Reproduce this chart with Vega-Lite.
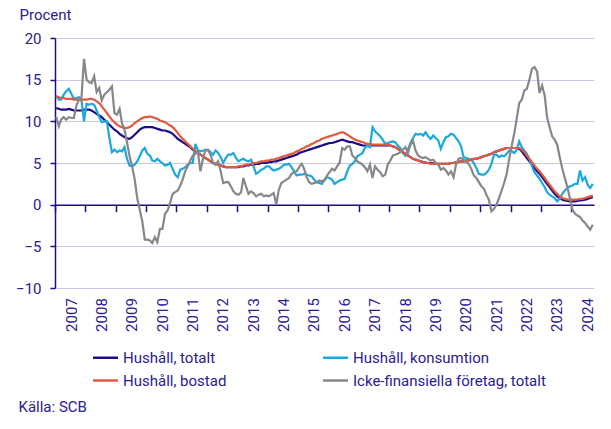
{
"$schema": "https://vega.github.io/schema/vega-lite/v6.json",
"width": 539, "height": 250,
"autosize": {"type": "none"},
"padding": {"left": 55, "top": 38, "right": 17, "bottom": 141},
"background": "white",
"config": {"font": "Roboto", "view": {"stroke": null}},
"data": {"values": [
{"d":"2007-01-16","t":11.6,"k":13.1,"b":13.0,"f":10.5},
{"d":"2007-02-16","t":11.5,"k":12.6,"b":12.9,"f":9.4},
{"d":"2007-03-16","t":11.4,"k":12.6,"b":12.8,"f":10.2},
{"d":"2007-04-16","t":11.4,"k":13.2,"b":12.8,"f":10.5},
{"d":"2007-05-16","t":11.4,"k":13.6,"b":12.7,"f":10.2},
{"d":"2007-06-16","t":11.5,"k":13.9,"b":12.7,"f":10.5},
{"d":"2007-07-16","t":11.4,"k":13.3,"b":12.7,"f":10.4},
{"d":"2007-08-16","t":11.3,"k":12.7,"b":12.6,"f":10.4},
{"d":"2007-09-16","t":11.3,"k":12.8,"b":12.6,"f":11.9},
{"d":"2007-10-16","t":11.3,"k":12.9,"b":12.6,"f":12.6},
{"d":"2007-11-16","t":11.3,"k":12.5,"b":12.6,"f":12.9},
{"d":"2007-12-16","t":11.4,"k":10.0,"b":12.6,"f":17.5},
{"d":"2008-01-16","t":11.4,"k":12.1,"b":12.6,"f":15.0},
{"d":"2008-02-16","t":11.4,"k":12.0,"b":12.7,"f":14.7},
{"d":"2008-03-16","t":11.3,"k":12.1,"b":12.7,"f":14.6},
{"d":"2008-04-16","t":11.1,"k":12.0,"b":12.6,"f":15.4},
{"d":"2008-05-16","t":10.9,"k":11.3,"b":12.4,"f":13.5},
{"d":"2008-06-16","t":10.7,"k":10.5,"b":12.2,"f":14.0},
{"d":"2008-07-16","t":10.5,"k":9.9,"b":11.8,"f":12.5},
{"d":"2008-08-16","t":10.2,"k":10.0,"b":11.4,"f":13.2},
{"d":"2008-09-16","t":9.9,"k":10.0,"b":11.0,"f":13.5},
{"d":"2008-10-16","t":9.6,"k":8.0,"b":10.6,"f":13.8},
{"d":"2008-11-16","t":9.3,"k":6.3,"b":10.2,"f":14.2},
{"d":"2008-12-16","t":9.0,"k":6.6,"b":9.9,"f":11.0},
{"d":"2009-01-16","t":8.8,"k":6.3,"b":9.6,"f":10.8},
{"d":"2009-02-16","t":8.5,"k":6.5,"b":9.4,"f":11.5},
{"d":"2009-03-16","t":8.3,"k":6.4,"b":9.3,"f":9.8},
{"d":"2009-04-16","t":8.1,"k":6.9,"b":9.2,"f":9.0},
{"d":"2009-05-16","t":7.95,"k":5.5,"b":9.2,"f":7.5},
{"d":"2009-06-16","t":7.9,"k":4.7,"b":9.3,"f":5.8},
{"d":"2009-07-16","t":8.1,"k":4.6,"b":9.5,"f":4.6},
{"d":"2009-08-16","t":8.4,"k":4.8,"b":9.8,"f":3.1},
{"d":"2009-09-16","t":8.7,"k":5.2,"b":10.0,"f":0.8},
{"d":"2009-10-16","t":9.0,"k":5.8,"b":10.2,"f":-0.6},
{"d":"2009-11-16","t":9.2,"k":6.5,"b":10.4,"f":-2.0},
{"d":"2009-12-16","t":9.3,"k":6.8,"b":10.5,"f":-4.2},
{"d":"2010-01-16","t":9.3,"k":6.1,"b":10.5,"f":-4.2},
{"d":"2010-02-16","t":9.3,"k":5.9,"b":10.6,"f":-4.3},
{"d":"2010-03-16","t":9.3,"k":5.3,"b":10.5,"f":-4.6},
{"d":"2010-04-16","t":9.2,"k":5.2,"b":10.4,"f":-3.9},
{"d":"2010-05-16","t":9.1,"k":5.5,"b":10.3,"f":-4.5},
{"d":"2010-06-16","t":9.0,"k":5.2,"b":10.1,"f":-2.9},
{"d":"2010-07-16","t":8.9,"k":5.0,"b":10.0,"f":-2.9},
{"d":"2010-08-16","t":8.9,"k":4.7,"b":9.9,"f":-1.1},
{"d":"2010-09-16","t":8.8,"k":4.8,"b":9.7,"f":-0.7},
{"d":"2010-10-16","t":8.7,"k":5.0,"b":9.5,"f":0.2},
{"d":"2010-11-16","t":8.5,"k":4.3,"b":9.3,"f":1.3},
{"d":"2010-12-16","t":8.2,"k":3.6,"b":9.0,"f":1.5},
{"d":"2011-01-16","t":7.9,"k":3.3,"b":8.6,"f":1.7},
{"d":"2011-02-16","t":7.7,"k":4.2,"b":8.2,"f":2.3},
{"d":"2011-03-16","t":7.5,"k":4.3,"b":7.9,"f":3.0},
{"d":"2011-04-16","t":7.3,"k":4.5,"b":7.6,"f":4.0},
{"d":"2011-05-16","t":7.1,"k":4.8,"b":7.3,"f":4.6},
{"d":"2011-06-16","t":6.9,"k":5.0,"b":7.0,"f":5.3},
{"d":"2011-07-16","t":6.6,"k":5.0,"b":6.7,"f":5.9},
{"d":"2011-08-16","t":6.4,"k":7.3,"b":6.4,"f":6.1},
{"d":"2011-09-16","t":6.2,"k":6.5,"b":6.2,"f":6.3},
{"d":"2011-10-16","t":6.0,"k":6.4,"b":6.0,"f":4.0},
{"d":"2011-11-16","t":5.8,"k":6.5,"b":5.8,"f":5.5},
{"d":"2011-12-16","t":5.6,"k":6.5,"b":5.6,"f":6.6},
{"d":"2012-01-16","t":5.4,"k":6.6,"b":5.4,"f":6.5},
{"d":"2012-02-16","t":5.2,"k":6.3,"b":5.2,"f":6.0},
{"d":"2012-03-16","t":5.0,"k":6.0,"b":5.0,"f":5.0},
{"d":"2012-04-16","t":4.9,"k":6.5,"b":4.9,"f":4.8},
{"d":"2012-05-16","t":4.8,"k":6.2,"b":4.8,"f":5.2},
{"d":"2012-06-16","t":4.7,"k":5.7,"b":4.7,"f":4.0},
{"d":"2012-07-16","t":4.6,"k":5.0,"b":4.6,"f":2.6},
{"d":"2012-08-16","t":4.5,"k":5.6,"b":4.5,"f":2.7},
{"d":"2012-09-16","t":4.5,"k":6.0,"b":4.5,"f":2.7},
{"d":"2012-10-16","t":4.5,"k":6.0,"b":4.5,"f":2.2},
{"d":"2012-11-16","t":4.5,"k":6.2,"b":4.5,"f":1.6},
{"d":"2012-12-16","t":4.5,"k":5.6,"b":4.5,"f":1.3},
{"d":"2013-01-16","t":4.5,"k":5.2,"b":4.6,"f":1.2},
{"d":"2013-02-16","t":4.6,"k":5.4,"b":4.6,"f":1.5},
{"d":"2013-03-16","t":4.6,"k":5.5,"b":4.7,"f":3.2},
{"d":"2013-04-16","t":4.7,"k":5.3,"b":4.8,"f":2.2},
{"d":"2013-05-16","t":4.7,"k":5.2,"b":4.8,"f":1.3},
{"d":"2013-06-16","t":4.8,"k":5.4,"b":4.9,"f":1.6},
{"d":"2013-07-16","t":4.8,"k":4.6,"b":5.0,"f":1.4},
{"d":"2013-08-16","t":4.9,"k":3.7,"b":5.0,"f":1.0},
{"d":"2013-09-16","t":4.9,"k":3.9,"b":5.1,"f":1.2},
{"d":"2013-10-16","t":5.0,"k":4.2,"b":5.2,"f":1.3},
{"d":"2013-11-16","t":5.0,"k":4.3,"b":5.2,"f":1.0},
{"d":"2013-12-16","t":5.0,"k":4.6,"b":5.3,"f":1.1},
{"d":"2014-01-16","t":5.1,"k":4.6,"b":5.3,"f":1.0},
{"d":"2014-02-16","t":5.1,"k":4.3,"b":5.4,"f":1.2},
{"d":"2014-03-16","t":5.2,"k":4.1,"b":5.4,"f":1.4},
{"d":"2014-04-16","t":5.2,"k":4.2,"b":5.5,"f":0.0},
{"d":"2014-05-16","t":5.3,"k":4.3,"b":5.6,"f":1.8},
{"d":"2014-06-16","t":5.4,"k":4.5,"b":5.7,"f":2.6},
{"d":"2014-07-16","t":5.5,"k":4.8,"b":5.8,"f":2.8},
{"d":"2014-08-16","t":5.6,"k":4.8,"b":5.9,"f":3.0},
{"d":"2014-09-16","t":5.7,"k":4.9,"b":6.0,"f":3.2},
{"d":"2014-10-16","t":5.8,"k":4.5,"b":6.1,"f":3.7},
{"d":"2014-11-16","t":5.9,"k":4.0,"b":6.2,"f":3.9},
{"d":"2014-12-16","t":6.0,"k":3.5,"b":6.4,"f":4.0},
{"d":"2015-01-16","t":6.2,"k":3.6,"b":6.5,"f":4.5},
{"d":"2015-02-16","t":6.3,"k":3.6,"b":6.7,"f":4.9},
{"d":"2015-03-16","t":6.4,"k":3.7,"b":6.8,"f":4.3},
{"d":"2015-04-16","t":6.5,"k":3.6,"b":7.0,"f":3.3},
{"d":"2015-05-16","t":6.6,"k":3.5,"b":7.1,"f":2.7},
{"d":"2015-06-16","t":6.7,"k":3.4,"b":7.3,"f":2.5},
{"d":"2015-07-16","t":6.8,"k":3.0,"b":7.4,"f":2.6},
{"d":"2015-08-16","t":6.9,"k":2.7,"b":7.6,"f":2.7},
{"d":"2015-09-16","t":7.0,"k":2.6,"b":7.7,"f":2.9},
{"d":"2015-10-16","t":7.1,"k":2.5,"b":7.9,"f":2.8},
{"d":"2015-11-16","t":7.2,"k":3.0,"b":8.0,"f":2.9},
{"d":"2015-12-16","t":7.3,"k":3.3,"b":8.1,"f":3.5},
{"d":"2016-01-16","t":7.4,"k":3.2,"b":8.2,"f":3.9},
{"d":"2016-02-16","t":7.4,"k":3.0,"b":8.3,"f":4.3},
{"d":"2016-03-16","t":7.5,"k":2.5,"b":8.4,"f":4.1},
{"d":"2016-04-16","t":7.6,"k":2.7,"b":8.5,"f":4.6},
{"d":"2016-05-16","t":7.7,"k":2.9,"b":8.6,"f":5.0},
{"d":"2016-06-16","t":7.8,"k":3.0,"b":8.7,"f":6.8},
{"d":"2016-07-16","t":7.7,"k":3.1,"b":8.6,"f":6.6},
{"d":"2016-08-16","t":7.6,"k":4.0,"b":8.4,"f":7.0},
{"d":"2016-09-16","t":7.5,"k":4.7,"b":8.2,"f":7.0},
{"d":"2016-10-16","t":7.5,"k":4.9,"b":8.0,"f":5.9},
{"d":"2016-11-16","t":7.4,"k":5.2,"b":7.8,"f":5.6},
{"d":"2016-12-16","t":7.3,"k":5.8,"b":7.7,"f":5.2},
{"d":"2017-01-16","t":7.2,"k":6.0,"b":7.6,"f":5.0},
{"d":"2017-02-16","t":7.1,"k":6.2,"b":7.5,"f":4.8},
{"d":"2017-03-16","t":7.1,"k":6.8,"b":7.4,"f":4.5},
{"d":"2017-04-16","t":7.1,"k":7.1,"b":7.3,"f":4.0},
{"d":"2017-05-16","t":7.1,"k":6.9,"b":7.3,"f":4.8},
{"d":"2017-06-16","t":7.1,"k":9.3,"b":7.2,"f":3.2},
{"d":"2017-07-16","t":7.1,"k":8.8,"b":7.2,"f":4.6},
{"d":"2017-08-16","t":7.1,"k":8.5,"b":7.2,"f":4.2},
{"d":"2017-09-16","t":7.1,"k":8.2,"b":7.2,"f":3.9},
{"d":"2017-10-16","t":7.1,"k":7.8,"b":7.2,"f":3.4},
{"d":"2017-11-16","t":7.1,"k":7.3,"b":7.2,"f":3.6},
{"d":"2017-12-16","t":7.1,"k":7.4,"b":7.2,"f":4.8},
{"d":"2018-01-16","t":7.1,"k":7.5,"b":7.1,"f":5.3},
{"d":"2018-02-16","t":7.0,"k":7.6,"b":7.0,"f":5.9},
{"d":"2018-03-16","t":6.9,"k":7.5,"b":6.9,"f":6.0},
{"d":"2018-04-16","t":6.7,"k":7.1,"b":6.7,"f":6.1},
{"d":"2018-05-16","t":6.5,"k":6.8,"b":6.5,"f":6.3},
{"d":"2018-06-16","t":6.3,"k":6.2,"b":6.3,"f":6.6},
{"d":"2018-07-16","t":6.1,"k":5.9,"b":6.1,"f":6.9},
{"d":"2018-08-16","t":5.9,"k":6.6,"b":5.9,"f":6.2},
{"d":"2018-09-16","t":5.7,"k":7.4,"b":5.7,"f":7.2},
{"d":"2018-10-16","t":5.5,"k":8.0,"b":5.5,"f":7.7},
{"d":"2018-11-16","t":5.4,"k":8.5,"b":5.4,"f":6.5},
{"d":"2018-12-16","t":5.3,"k":8.4,"b":5.3,"f":5.9},
{"d":"2019-01-16","t":5.2,"k":8.5,"b":5.2,"f":5.7},
{"d":"2019-02-16","t":5.1,"k":8.3,"b":5.1,"f":5.6},
{"d":"2019-03-16","t":5.05,"k":8.7,"b":5.0,"f":5.7},
{"d":"2019-04-16","t":5.0,"k":8.2,"b":5.0,"f":5.5},
{"d":"2019-05-16","t":5.0,"k":7.9,"b":4.9,"f":5.3},
{"d":"2019-06-16","t":4.95,"k":8.3,"b":4.9,"f":5.4},
{"d":"2019-07-16","t":4.9,"k":8.0,"b":4.9,"f":5.0},
{"d":"2019-08-16","t":4.9,"k":7.7,"b":4.9,"f":4.8},
{"d":"2019-09-16","t":4.9,"k":6.7,"b":4.9,"f":4.2},
{"d":"2019-10-16","t":4.9,"k":7.5,"b":4.9,"f":4.4},
{"d":"2019-11-16","t":4.9,"k":8.1,"b":4.9,"f":4.1},
{"d":"2019-12-16","t":4.9,"k":8.2,"b":4.9,"f":3.6},
{"d":"2020-01-16","t":5.0,"k":8.5,"b":5.0,"f":4.0},
{"d":"2020-02-16","t":5.0,"k":8.4,"b":5.0,"f":3.3},
{"d":"2020-03-16","t":5.1,"k":8.0,"b":5.1,"f":4.8},
{"d":"2020-04-16","t":5.1,"k":7.6,"b":5.1,"f":5.5},
{"d":"2020-05-16","t":5.2,"k":7.0,"b":5.2,"f":5.6},
{"d":"2020-06-16","t":5.2,"k":5.7,"b":5.2,"f":5.4},
{"d":"2020-07-16","t":5.3,"k":5.6,"b":5.3,"f":5.1},
{"d":"2020-08-16","t":5.3,"k":5.5,"b":5.3,"f":4.9},
{"d":"2020-09-16","t":5.4,"k":5.4,"b":5.4,"f":4.3},
{"d":"2020-10-16","t":5.5,"k":5.0,"b":5.5,"f":3.5},
{"d":"2020-11-16","t":5.5,"k":4.4,"b":5.5,"f":3.2},
{"d":"2020-12-16","t":5.6,"k":3.7,"b":5.6,"f":2.7},
{"d":"2021-01-16","t":5.7,"k":3.6,"b":5.7,"f":2.2},
{"d":"2021-02-16","t":5.8,"k":3.6,"b":5.8,"f":1.9},
{"d":"2021-03-16","t":5.9,"k":3.8,"b":5.9,"f":1.2},
{"d":"2021-04-16","t":6.0,"k":4.2,"b":6.0,"f":0.6},
{"d":"2021-05-16","t":6.1,"k":4.9,"b":6.1,"f":-0.8},
{"d":"2021-06-16","t":6.3,"k":6.0,"b":6.3,"f":-0.5},
{"d":"2021-07-16","t":6.4,"k":6.0,"b":6.4,"f":0.0},
{"d":"2021-08-16","t":6.5,"k":5.7,"b":6.5,"f":0.8},
{"d":"2021-09-16","t":6.6,"k":5.9,"b":6.6,"f":1.7},
{"d":"2021-10-16","t":6.7,"k":5.8,"b":6.7,"f":2.6},
{"d":"2021-11-16","t":6.8,"k":6.1,"b":6.8,"f":3.7},
{"d":"2021-12-16","t":6.8,"k":6.5,"b":6.8,"f":5.5},
{"d":"2022-01-16","t":6.8,"k":6.4,"b":6.8,"f":7.1},
{"d":"2022-02-16","t":6.8,"k":6.2,"b":6.8,"f":8.6},
{"d":"2022-03-16","t":6.8,"k":6.6,"b":6.8,"f":10.3},
{"d":"2022-04-16","t":6.7,"k":7.6,"b":6.8,"f":12.2},
{"d":"2022-05-16","t":6.4,"k":6.9,"b":6.6,"f":12.6},
{"d":"2022-06-16","t":6.0,"k":6.5,"b":6.3,"f":13.7},
{"d":"2022-07-16","t":5.6,"k":6.1,"b":5.9,"f":13.9},
{"d":"2022-08-16","t":5.2,"k":5.5,"b":5.5,"f":15.0},
{"d":"2022-09-16","t":4.8,"k":4.6,"b":5.1,"f":16.3},
{"d":"2022-10-16","t":4.4,"k":3.9,"b":4.7,"f":16.5},
{"d":"2022-11-16","t":4.0,"k":3.5,"b":4.3,"f":16.0},
{"d":"2022-12-16","t":3.7,"k":3.1,"b":4.0,"f":13.4},
{"d":"2023-01-16","t":3.3,"k":2.6,"b":3.6,"f":14.3},
{"d":"2023-02-16","t":2.9,"k":2.1,"b":3.2,"f":13.1},
{"d":"2023-03-16","t":2.5,"k":1.5,"b":2.8,"f":10.5},
{"d":"2023-04-16","t":2.1,"k":1.2,"b":2.4,"f":9.3},
{"d":"2023-05-16","t":1.7,"k":1.0,"b":2.0,"f":8.2},
{"d":"2023-06-16","t":1.3,"k":0.8,"b":1.6,"f":7.8},
{"d":"2023-07-16","t":1.0,"k":0.4,"b":1.3,"f":7.2},
{"d":"2023-08-16","t":0.8,"k":0.7,"b":1.0,"f":5.7},
{"d":"2023-09-16","t":0.6,"k":1.3,"b":0.8,"f":4.3},
{"d":"2023-10-16","t":0.5,"k":1.7,"b":0.7,"f":3.2},
{"d":"2023-11-16","t":0.45,"k":2.0,"b":0.6,"f":2.1},
{"d":"2023-12-16","t":0.4,"k":2.2,"b":0.6,"f":0.8},
{"d":"2024-01-16","t":0.4,"k":2.3,"b":0.6,"f":-0.6},
{"d":"2024-02-16","t":0.4,"k":2.5,"b":0.6,"f":-1.1},
{"d":"2024-03-16","t":0.45,"k":2.5,"b":0.6,"f":-1.3},
{"d":"2024-04-16","t":0.5,"k":4.1,"b":0.7,"f":-1.5},
{"d":"2024-05-16","t":0.55,"k":2.9,"b":0.7,"f":-1.9},
{"d":"2024-06-16","t":0.6,"k":3.3,"b":0.8,"f":-2.2},
{"d":"2024-07-16","t":0.7,"k":2.4,"b":0.9,"f":-2.6},
{"d":"2024-08-16","t":0.8,"k":2.0,"b":1.0,"f":-3.0},
{"d":"2024-09-16","t":0.9,"k":2.5,"b":1.1,"f":-2.4}
]},
"transform": [{"fold": ["t", "k", "b", "f"], "as": ["s", "v"]}],
"mark": {"type": "line", "strokeWidth": 2.2},
"encoding": {
  "x": {"field": "d", "type": "temporal",
    "scale": {"type": "utc", "domain": [1167609600000, 1727740800000]},
    "axis": {"offset": -83.33, "grid": false,
      "domainColor": "#1c0c86", "domainWidth": 1.5,
      "tickColor": "#1c0c86", "tickSize": 7, "tickWidth": 1.5,
      "tickCount": {"interval": "year", "step": 1}, "format": "%Y",
      "labelAngle": 270, "labelAlign": "right", "labelBaseline": "middle",
      "labelOffset": 16, "labelPadding": 86,
      "labelFont": "Roboto", "labelFontSize": 15, "labelColor": "#2a2090",
      "labelFlush": false, "labelOverlap": false, "labelBound": false,
      "title": "Källa: SCB", "titleX": -37, "titleY": 202, "titleAlign": "left", "titleBaseline": "middle", "titleAngle": 0,
      "titleFont": "Roboto", "titleFontSize": 15, "titleFontWeight": "normal", "titleColor": "#2a2090"}},
  "y": {"field": "v", "type": "quantitative",
    "scale": {"domain": [-10, 20], "nice": false, "zero": false},
    "axis": {"values": [-10, -5, 0, 5, 10, 15, 20],
      "domainColor": "#1c0c86", "domainWidth": 1.5,
      "tickColor": "#1c0c86", "tickSize": 5, "tickWidth": 1.5,
      "labelFont": "Roboto", "labelFontSize": 15, "labelColor": "#2a2090", "labelPadding": 9,
      "grid": true, "gridColor": "#c9c9e8", "gridWidth": 1,
      "title": "Procent", "titleAngle": 0, "titleX": -36, "titleY": -19, "titleAlign": "left", "titleBaseline": "alphabetic",
      "titleFont": "Roboto", "titleFontSize": 15, "titleFontWeight": "normal", "titleColor": "#2a2090"}},
  "color": {"field": "s", "type": "nominal",
    "scale": {"domain": ["t", "b", "k", "f"], "range": ["#1c0c86", "#e2593f", "#1ba8dc", "#878787"]},
    "legend": {"orient": "none", "legendX": 43, "legendY": 312, "columns": 2, "title": null,
      "symbolType": "M-2,0H2", "symbolSize": 156, "symbolStrokeWidth": 2.5, "symbolOffset": 0,
      "labelFont": "Roboto", "labelFontSize": 15, "labelColor": "#2a2090", "labelOffset": 10, "labelLimit": 0,
      "columnPadding": 91, "rowPadding": 7, "padding": 0,
      "labelExpr": "{'t': 'Hushåll, totalt', 'k': 'Hushåll, konsumtion', 'b': 'Hushåll, bostad', 'f': 'Icke-finansiella företag, totalt'}[datum.label]"}}
}
}
